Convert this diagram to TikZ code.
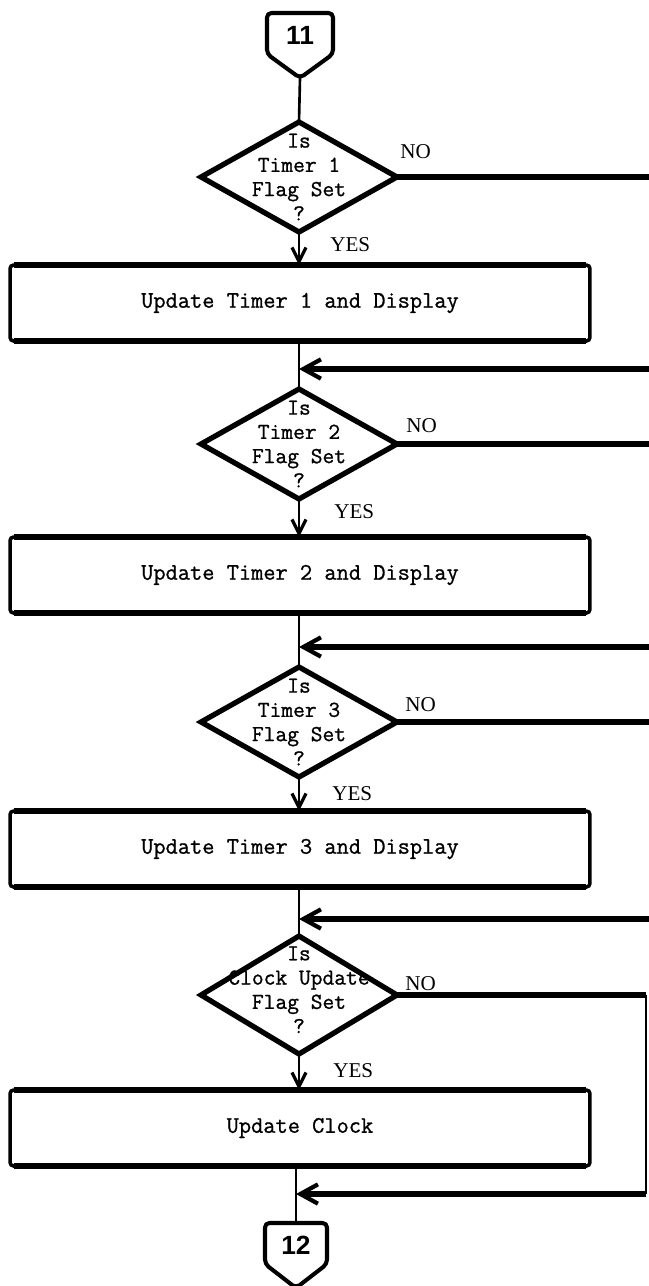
\documentclass[tikz,border=0pt]{standalone}
\usepackage{fontspec}
\setmainfont{Liberation Serif}
\newfontfamily\numfont{Liberation Sans}
\newfontfamily\typefont{Latin Modern Mono}[FakeBold=1]
\usetikzlibrary{shapes.geometric,arrows.meta,calc}

\begin{document}
\begin{tikzpicture}[x=0.02cm,y=-0.02cm,
  flow/.style={line width=1.5pt},
  heavy/.style={line width=3pt},
  downarrow/.style={flow,-{Straight Barb[length=8pt,width=8pt,line width=1.8pt]}},
  backarrow/.style={heavy,-{Straight Barb[length=10pt,width=11pt,line width=2.4pt]}},
  decision/.style={diamond, draw, line width=3pt, inner sep=0pt, outer sep=0pt,
    minimum width=3.92cm, minimum height=2.2cm},
  dtext/.style={align=center, inner sep=0pt,
    font=\fontsize{13}{13.8}\selectfont\typefont},
  process/.style={draw, line width=2pt, rounded corners=2pt, inner sep=0pt, outer sep=0pt,
    minimum width=11.6cm, minimum height=1.52cm,
    font=\fontsize{13.5}{14}\selectfont\typefont},
  answer/.style={anchor=west, inner sep=0pt, font=\fontsize{12}{13}\selectfont},
  numtxt/.style={inner sep=0pt, font=\fontsize{15}{16}\selectfont\numfont\bfseries},
  connbox/.style={line width=2.3pt, rounded corners=2.5pt, line join=round}
]
\path[use as bounding box, clip] (0,0) rectangle (649,1286);

% off-page connector 11
\node[numtxt] (c11) at (300,35) {11};
\draw[connbox] ($(c11)+(-33,-22)$) -- ($(c11)+(33,-22)$) -- ($(c11)+(33,19)$)
  -- ($(c11)+(0,43)$) -- ($(c11)+(-33,19)$) -- cycle;
\coordinate (c11tip) at ($(c11)+(0,43)$);

% decisions
\node[decision, label={[dtext]center:Is\\Timer 1\\Flag Set\\?}] (d1) at (299,177) {};
\node[decision, label={[dtext]center:Is\\Timer 2\\Flag Set\\?}] (d2) at (299,444) {};
\node[decision, label={[dtext]center:Is\\Timer 3\\Flag Set\\?}] (d3) at (299,722) {};
\node[decision, minimum height=2.36cm,
  label={[dtext,yshift=3pt]center:Is\\Clock Update\\Flag Set\\?}] (d4) at (299,995) {};

% processing boxes
\node[process] (r1) at (300,303) {Update Timer 1 and Display};
\node[process] (r2) at (300,575) {Update Timer 2 and Display};
\node[process] (r3) at (300,849) {Update Timer 3 and Display};
\node[process] (r4) at (300,1128) {Update Clock};
\foreach \r in {r1,r2,r3,r4} {
  \draw[line width=3.2pt] ([xshift=2pt]\r.north west) -- ([xshift=-2pt]\r.north east);
  \draw[line width=3.2pt] ([xshift=2pt]\r.south west) -- ([xshift=-2pt]\r.south east);
}

% off-page connector 12
\node[numtxt] (c12) at (296,1245) {12};
\draw[connbox] ($(c12)+(-31,-22)$) -- ($(c12)+(31,-22)$) -- ($(c12)+(31,19)$)
  -- ($(c12)+(0,43)$) -- ($(c12)+(-31,19)$) -- cycle;
\coordinate (c12top) at ($(c12)+(0,-22)$);

% merge points
\coordinate (j1) at (299,369);
\coordinate (j2) at (299,647);
\coordinate (j3) at (299,919);
\coordinate (j4) at (299,1194);
\coordinate (xr) at (657,0);
\coordinate (xr4) at (646,0);

% main flow
\draw[flow] (c11tip) -- (d1.north);
\draw[downarrow] (d1.south) -- (r1.north -| d1.south);
\draw[flow] (r1.south -| d2.north) -- (d2.north);
\draw[downarrow] (d2.south) -- (r2.north -| d2.south);
\draw[flow] (r2.south -| d3.north) -- (d3.north);
\draw[downarrow] (d3.south) -- (r3.north -| d3.south);
\draw[flow] (r3.south -| d4.north) -- (d4.north);
\draw[downarrow] (d4.south) -- (r4.north -| d4.south);
\draw[flow] (c12top |- r4.south) -- (c12top);

% NO branches
\draw[heavy] (d1.east) -- (d1.east -| xr) -- (xr |- j1);
\draw[backarrow] (xr |- j1) -- (j1);
\draw[heavy] (d2.east) -- (d2.east -| xr) -- (xr |- j2);
\draw[backarrow] (xr |- j2) -- (j2);
\draw[heavy] (d3.east) -- (d3.east -| xr) -- (xr |- j3);
\draw[backarrow] (xr |- j3) -- (j3);
\draw[heavy] (d4.east) -- (d4.east -| xr4);
\draw[line width=1.4pt] (d4.east -| xr4) -- (xr4 |- j4);
\draw[backarrow] (xr4 |- j4) -- (j4 -| c12top);

% answer labels
\node[answer] (no1) at (400,152) {NO};
\node[answer] (no2) at (406,426) {NO};
\node[answer] (no3) at (405,705) {NO};
\node[answer] (no4) at (405,984) {NO};
\node[answer] (yes1) at (330,245) {YES};
\node[answer] (yes2) at (334,512) {YES};
\node[answer] (yes3) at (332,794) {YES};
\node[answer] (yes4) at (333,1071) {YES};
\end{tikzpicture}
\end{document}
